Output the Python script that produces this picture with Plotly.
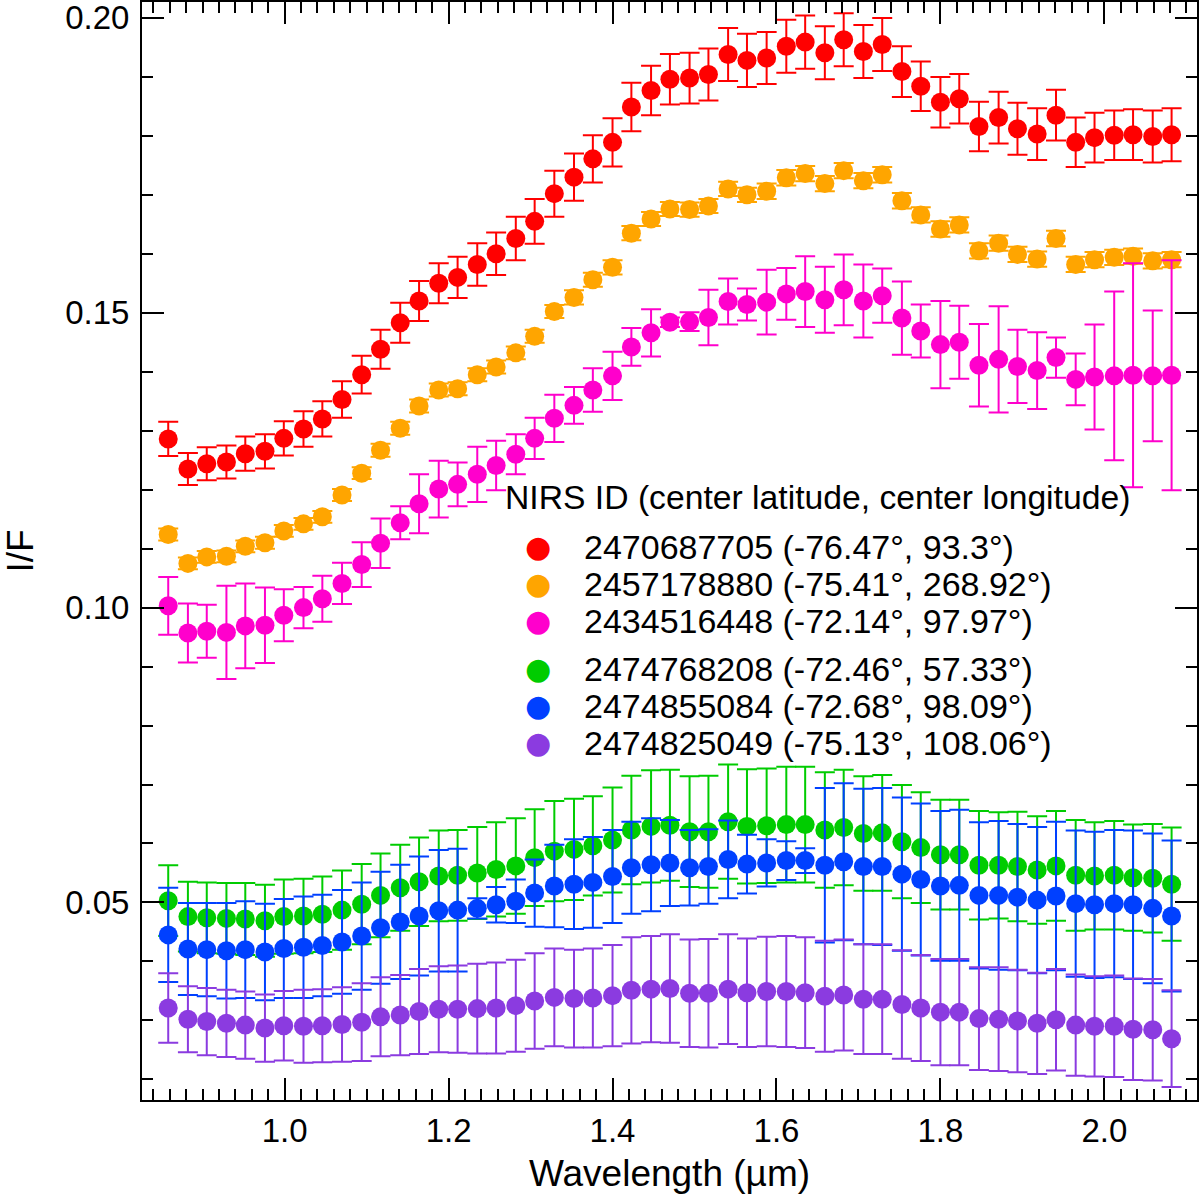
import plotly.graph_objects as go

# wavelength grid (µm)
wavelength = [
    0.858, 0.882, 0.905, 0.929, 0.952, 0.976, 0.999, 1.023, 1.046, 1.070,
    1.094, 1.117, 1.141, 1.164, 1.188, 1.211, 1.235, 1.258, 1.282, 1.305,
    1.329, 1.353, 1.376, 1.400, 1.423, 1.447, 1.470, 1.494, 1.517, 1.541,
    1.564, 1.588, 1.612, 1.635, 1.659, 1.682, 1.706, 1.729, 1.753, 1.776,
    1.800, 1.823, 1.847, 1.871, 1.894, 1.918, 1.941, 1.965, 1.988, 2.012,
    2.035, 2.059, 2.082,
]

# 2470687705
red_if = [
    0.1286, 0.1235, 0.1244, 0.1247, 0.1261, 0.1265, 0.1287, 0.1303, 0.1320, 0.1353,
    0.1395, 0.1438, 0.1483, 0.1520, 0.1550, 0.1560, 0.1582, 0.1600, 0.1626, 0.1655,
    0.1702, 0.1730, 0.1761, 0.1789, 0.1849, 0.1877, 0.1896, 0.1898, 0.1904, 0.1938,
    0.1928, 0.1932, 0.1952, 0.1959, 0.1941, 0.1963, 0.1943, 0.1955, 0.1909, 0.1884,
    0.1857, 0.1863, 0.1816, 0.1831, 0.1812, 0.1803, 0.1835, 0.1789, 0.1797, 0.1801,
    0.1802, 0.1799, 0.1802,
]
red_err = [
    0.0029, 0.0027, 0.0028, 0.0028, 0.0029, 0.0029, 0.0029, 0.0030, 0.0030, 0.0031,
    0.0032, 0.0033, 0.0034, 0.0034, 0.0034, 0.0035, 0.0036, 0.0036, 0.0037, 0.0038,
    0.0039, 0.0040, 0.0040, 0.0041, 0.0041, 0.0042, 0.0043, 0.0043, 0.0044, 0.0045,
    0.0045, 0.0044, 0.0045, 0.0045, 0.0045, 0.0045, 0.0045, 0.0045, 0.0043, 0.0042,
    0.0043, 0.0042, 0.0042, 0.0044, 0.0044, 0.0044, 0.0043, 0.0042, 0.0042, 0.0042,
    0.0043, 0.0044, 0.0045,
]

# 2457178880
orange_if = [
    0.1124, 0.1075, 0.1086, 0.1087, 0.1104, 0.1110, 0.1130, 0.1142, 0.1154, 0.1191,
    0.1228, 0.1267, 0.1304, 0.1342, 0.1369, 0.1371, 0.1395, 0.1408, 0.1432, 0.1460,
    0.1502, 0.1526, 0.1556, 0.1577, 0.1635, 0.1659, 0.1676, 0.1675, 0.1681, 0.1710,
    0.1700, 0.1706, 0.1729, 0.1736, 0.1719, 0.1741, 0.1724, 0.1734, 0.1690, 0.1666,
    0.1642, 0.1649, 0.1605, 0.1618, 0.1599, 0.1591, 0.1626, 0.1582, 0.1590, 0.1594,
    0.1596, 0.1588, 0.1590,
]
orange_err = [
    0.0010, 0.0010, 0.0010, 0.0010, 0.0010, 0.0010, 0.0010, 0.0010, 0.0010, 0.0010,
    0.0010, 0.0011, 0.0011, 0.0011, 0.0011, 0.0011, 0.0011, 0.0011, 0.0011, 0.0011,
    0.0011, 0.0012, 0.0012, 0.0012, 0.0012, 0.0012, 0.0012, 0.0012, 0.0012, 0.0012,
    0.0012, 0.0013, 0.0013, 0.0013, 0.0013, 0.0013, 0.0013, 0.0013, 0.0013, 0.0013,
    0.0013, 0.0013, 0.0013, 0.0013, 0.0013, 0.0013, 0.0013, 0.0013, 0.0013, 0.0013,
    0.0013, 0.0013, 0.0013,
]

# 2434516448
magenta_if = [
    0.1003, 0.0957, 0.0960, 0.0958, 0.0969, 0.0970, 0.0987, 0.1000, 0.1015, 0.1041,
    0.1073, 0.1109, 0.1144, 0.1176, 0.1201, 0.1209, 0.1226, 0.1241, 0.1260, 0.1287,
    0.1321, 0.1343, 0.1369, 0.1393, 0.1442, 0.1466, 0.1484, 0.1485, 0.1492, 0.1519,
    0.1514, 0.1518, 0.1532, 0.1536, 0.1522, 0.1539, 0.1520, 0.1529, 0.1491, 0.1469,
    0.1446, 0.1450, 0.1411, 0.1421, 0.1409, 0.1402, 0.1424, 0.1387, 0.1391, 0.1393,
    0.1394, 0.1393, 0.1394,
]
magenta_err = [
    0.0049, 0.0050, 0.0045, 0.0079, 0.0072, 0.0064, 0.0044, 0.0035, 0.0039, 0.0035,
    0.0038, 0.0042, 0.0028, 0.0050, 0.0048, 0.0037, 0.0047, 0.0042, 0.0034, 0.0035,
    0.0040, 0.0031, 0.0037, 0.0041, 0.0032, 0.0040, 0.0008, 0.0016, 0.0047, 0.0039,
    0.0027, 0.0055, 0.0044, 0.0060, 0.0056, 0.0060, 0.0062, 0.0046, 0.0062, 0.0045,
    0.0074, 0.0062, 0.0070, 0.0090, 0.0062, 0.0065, 0.0034, 0.0044, 0.0089, 0.0143,
    0.0190, 0.0111, 0.0195,
]

# 2474768208
green_if = [
    0.0503, 0.0476, 0.0474, 0.0473, 0.0472, 0.0469, 0.0476, 0.0477, 0.0480, 0.0487,
    0.0497, 0.0512, 0.0525, 0.0535, 0.0545, 0.0546, 0.0550, 0.0556, 0.0562, 0.0576,
    0.0587, 0.0590, 0.0596, 0.0606, 0.0623, 0.0629, 0.0631, 0.0620, 0.0620, 0.0637,
    0.0629, 0.0630, 0.0632, 0.0632, 0.0623, 0.0627, 0.0617, 0.0618, 0.0603, 0.0593,
    0.0581, 0.0581, 0.0563, 0.0563, 0.0561, 0.0555, 0.0562, 0.0546, 0.0545, 0.0546,
    0.0542, 0.0541, 0.0531,
]
green_err = [
    0.0060, 0.0059, 0.0060, 0.0060, 0.0061, 0.0061, 0.0063, 0.0063, 0.0064, 0.0067,
    0.0068, 0.0071, 0.0073, 0.0075, 0.0077, 0.0077, 0.0078, 0.0080, 0.0081, 0.0082,
    0.0085, 0.0086, 0.0084, 0.0089, 0.0092, 0.0095, 0.0094, 0.0094, 0.0095, 0.0097,
    0.0097, 0.0097, 0.0098, 0.0098, 0.0098, 0.0098, 0.0097, 0.0098, 0.0096, 0.0094,
    0.0093, 0.0093, 0.0092, 0.0090, 0.0093, 0.0091, 0.0093, 0.0094, 0.0091, 0.0092,
    0.0090, 0.0092, 0.0096,
]

# 2474855084
blue_if = [
    0.0445, 0.0421, 0.0420, 0.0418, 0.0420, 0.0416, 0.0422, 0.0424, 0.0427, 0.0433,
    0.0443, 0.0457, 0.0467, 0.0477, 0.0486, 0.0487, 0.0490, 0.0496, 0.0502, 0.0516,
    0.0528, 0.0531, 0.0534, 0.0544, 0.0559, 0.0564, 0.0567, 0.0559, 0.0561, 0.0573,
    0.0565, 0.0567, 0.0571, 0.0571, 0.0563, 0.0569, 0.0561, 0.0561, 0.0548, 0.0539,
    0.0528, 0.0529, 0.0512, 0.0512, 0.0509, 0.0504, 0.0511, 0.0498, 0.0496, 0.0498,
    0.0496, 0.0490, 0.0477,
]
blue_err = [
    0.0080, 0.0078, 0.0079, 0.0081, 0.0082, 0.0082, 0.0084, 0.0086, 0.0086, 0.0088,
    0.0091, 0.0095, 0.0097, 0.0101, 0.0103, 0.0104, 0.0017, 0.0030, 0.0037, 0.0057,
    0.0070, 0.0076, 0.0077, 0.0079, 0.0078, 0.0079, 0.0073, 0.0064, 0.0063, 0.0066,
    0.0050, 0.0040, 0.0033, 0.0021, 0.0131, 0.0133, 0.0132, 0.0133, 0.0130, 0.0129,
    0.0127, 0.0128, 0.0124, 0.0126, 0.0124, 0.0124, 0.0126, 0.0124, 0.0124, 0.0125,
    0.0126, 0.0127, 0.0128,
]

# 2474825049
purple_if = [
    0.0321, 0.0302, 0.0298, 0.0295, 0.0292, 0.0287, 0.0291, 0.0290, 0.0291, 0.0293,
    0.0297, 0.0306, 0.0309, 0.0315, 0.0319, 0.0319, 0.0320, 0.0321, 0.0325, 0.0333,
    0.0339, 0.0337, 0.0338, 0.0342, 0.0351, 0.0353, 0.0354, 0.0346, 0.0346, 0.0353,
    0.0347, 0.0349, 0.0349, 0.0347, 0.0341, 0.0343, 0.0336, 0.0336, 0.0327, 0.0321,
    0.0314, 0.0314, 0.0303, 0.0302, 0.0299, 0.0295, 0.0301, 0.0292, 0.0290, 0.0290,
    0.0285, 0.0284, 0.0269,
]
purple_err = [
    0.0059, 0.0056, 0.0057, 0.0057, 0.0057, 0.0057, 0.0059, 0.0062, 0.0062, 0.0063,
    0.0066, 0.0067, 0.0068, 0.0072, 0.0073, 0.0074, 0.0076, 0.0077, 0.0078, 0.0081,
    0.0083, 0.0083, 0.0084, 0.0086, 0.0090, 0.0090, 0.0092, 0.0091, 0.0092, 0.0093,
    0.0092, 0.0093, 0.0094, 0.0094, 0.0094, 0.0094, 0.0093, 0.0093, 0.0092, 0.0090,
    0.0090, 0.0090, 0.0087, 0.0088, 0.0087, 0.0086, 0.0086, 0.0086, 0.0085, 0.0086,
    0.0086, 0.0086, 0.0082,
]

labels = [
    "2470687705 (-76.47°, 93.3°)",
    "2457178880 (-75.41°, 268.92°)",
    "2434516448 (-72.14°, 97.97°)",
    "2474768208 (-72.46°, 57.33°)",
    "2474855084 (-72.68°, 98.09°)",
    "2474825049 (-75.13°, 108.06°)",
]
colors = ["#ff0000", "#ffa500", "#ff00cc", "#00cc00", "#0040ff", "#8b3be0"]
series = [
    (red_if, red_err),
    (orange_if, orange_err),
    (magenta_if, magenta_err),
    (green_if, green_err),
    (blue_if, blue_err),
    (purple_if, purple_err),
]

FONT = "Liberation Sans, Arial, sans-serif"

fig = go.Figure()
for (vals, errs), name, col in zip(series, labels, colors):
    fig.add_trace(
        go.Scatter(
            x=wavelength,
            y=vals,
            mode="markers",
            name=name,
            marker=dict(color=col, size=19, line=dict(width=0)),
            error_y=dict(type="data", array=errs, color=col, thickness=2, width=10),
            showlegend=False,
        )
    )

# legend drawn as text (title, coloured dot, label)
legend_y = [0.5037, 0.4703, 0.4363, 0.3929, 0.3589, 0.3252]
annotations = [
    dict(
        text="NIRS ID (center latitude, center longitude)",
        x=0.3418, y=0.5489, xref="paper", yref="paper",
        xanchor="left", yanchor="middle", showarrow=False,
        font=dict(family=FONT, size=33.7, color="black"),
    )
]
for name, col, yy in zip(labels, colors, legend_y):
    annotations.append(
        dict(
            text="●", x=0.3757, y=yy, xref="paper", yref="paper",
            xanchor="center", yanchor="middle", showarrow=False,
            font=dict(family="DejaVu Sans", size=30, color=col),
        )
    )
    annotations.append(
        dict(
            text=name, x=0.4175, y=yy, xref="paper", yref="paper",
            xanchor="left", yanchor="middle", showarrow=False,
            font=dict(family=FONT, size=34, color="black"),
        )
    )

xr = [0.826, 2.113]
axis_common = dict(
    showline=True, linecolor="black", linewidth=2, mirror="ticks",
    ticks="inside", tickcolor="black", tickwidth=2,
    showgrid=False, zeroline=False, automargin=False,
)

fig.update_layout(
    width=1200,
    height=1198,
    margin=dict(l=142, r=3, t=2, b=98),
    plot_bgcolor="white",
    paper_bgcolor="white",
    font=dict(family=FONT, size=33, color="black"),
    annotations=annotations,
    xaxis=dict(
        range=xr, tick0=0, dtick=0.2, ticklen=22, tickformat=".1f",
        minor=dict(dtick=0.02, ticklen=11, tickwidth=2, tickcolor="black", ticks="inside"),
        title=dict(text="Wavelength (µm)", font=dict(size=37), standoff=13),
        tickfont=dict(size=33),
        ticklabeloverflow="allow",
        **axis_common,
    ),
    xaxis2=dict(
        range=xr, overlaying="x", anchor="y", side="bottom",
        tick0=0.1, dtick=0.2, ticklen=16, showticklabels=False,
        **axis_common,
    ),
    yaxis=dict(
        range=[0.0165, 0.2027], tick0=0, dtick=0.05, ticklen=22, tickformat=".2f",
        minor=dict(dtick=0.01, ticklen=11, tickwidth=2, tickcolor="black", ticks="inside"),
        title=dict(text="I/F", font=dict(size=37), standoff=31),
        tickfont=dict(size=33),
        ticklabelstandoff=4,
        ticklabeloverflow="allow",
        **axis_common,
    ),
)

# page is photographed from its top-left corner, so drop the default body margin
fig.write_html(
    "out.html",
    config={"displayModeBar": False},
    post_script="document.body.style.margin='0px';",
)
